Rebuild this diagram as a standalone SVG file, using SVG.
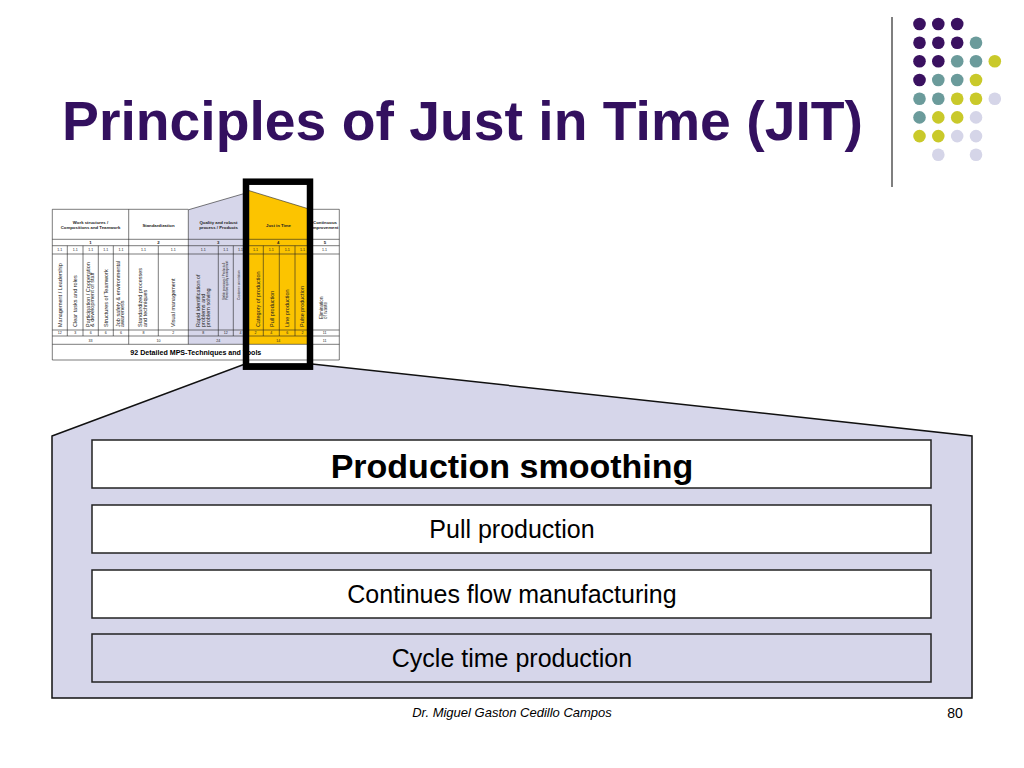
<svg xmlns="http://www.w3.org/2000/svg" width="1024" height="768" viewBox="0 0 1024 768">
<style>
.t{font-family:"Liberation Sans",Arial,sans-serif;fill:#000}
.title{font-family:"Liberation Sans",Arial,sans-serif;font-weight:bold;font-size:55.3px;fill:#33105f}
.box{stroke:#222;stroke-width:1.5}
.big{font-family:"Liberation Sans",Arial,sans-serif;font-size:25px;fill:#000;text-anchor:middle}
.tl{stroke:#222;stroke-width:0.6;fill:none}
.hd{font-family:"Liberation Sans",Arial,sans-serif;font-weight:bold;font-size:4.3px;fill:#222;text-anchor:middle}
.sm{font-family:"Liberation Sans",Arial,sans-serif;font-size:3.6px;fill:#222;text-anchor:middle}
.vt{font-family:"Liberation Sans",Arial,sans-serif;font-size:5.5px;fill:#222}
.P{fill:#3a1160}.T{fill:#6b9b9b}.Y{fill:#c9c92a}.L{fill:#d5d5e8}
</style>
<rect width="1024" height="768" fill="#fff"/>

<g id="decoration">
<line x1="892" y1="17" x2="892" y2="187" stroke="#555" stroke-width="1.5"/>
<g id="dots">
<circle class="P" cx="919.5" cy="24" r="6.3"/><circle class="P" cx="938.3" cy="24" r="6.3"/><circle class="P" cx="957.2" cy="24" r="6.3"/>
<circle class="P" cx="919.5" cy="42.7" r="6.3"/><circle class="P" cx="938.3" cy="42.7" r="6.3"/><circle class="P" cx="957.2" cy="42.7" r="6.3"/><circle class="T" cx="976" cy="42.7" r="6.3"/>
<circle class="P" cx="919.5" cy="61.3" r="6.3"/><circle class="P" cx="938.3" cy="61.3" r="6.3"/><circle class="T" cx="957.2" cy="61.3" r="6.3"/><circle class="T" cx="976" cy="61.3" r="6.3"/><circle class="Y" cx="994.8" cy="61.3" r="6.3"/>
<circle class="P" cx="919.5" cy="80" r="6.3"/><circle class="T" cx="938.3" cy="80" r="6.3"/><circle class="T" cx="957.2" cy="80" r="6.3"/><circle class="Y" cx="976" cy="80" r="6.3"/>
<circle class="T" cx="919.5" cy="98.7" r="6.3"/><circle class="T" cx="938.3" cy="98.7" r="6.3"/><circle class="Y" cx="957.2" cy="98.7" r="6.3"/><circle class="Y" cx="976" cy="98.7" r="6.3"/><circle class="L" cx="994.8" cy="98.7" r="6.3"/>
<circle class="T" cx="919.5" cy="117.4" r="6.3"/><circle class="Y" cx="938.3" cy="117.4" r="6.3"/><circle class="Y" cx="957.2" cy="117.4" r="6.3"/><circle class="L" cx="976" cy="117.4" r="6.3"/>
<circle class="Y" cx="919.5" cy="136.1" r="6.3"/><circle class="Y" cx="938.3" cy="136.1" r="6.3"/><circle class="L" cx="957.2" cy="136.1" r="6.3"/><circle class="L" cx="976" cy="136.1" r="6.3"/>
<circle class="L" cx="938.3" cy="154.8" r="6.3"/><circle class="L" cx="976" cy="154.8" r="6.3"/>
</g>
</g>

<text id="title" class="title" x="62" y="140">Principles of Just in Time (JIT)</text>

<g id="house">
<polygon points="52,436 245,364 312,364 972,436 972,698 52,698" fill="#d6d6ea" stroke="#111" stroke-width="1.5"/>
</g>
<g id="box-smoothing">
<rect class="box" x="92" y="440" width="839" height="48" fill="#fff"/>
<text class="big" x="512" y="478" style="font-weight:bold;font-size:34px">Production smoothing</text>
</g>
<g id="box-pull">
<rect class="box" x="92" y="505" width="839" height="48" fill="#fff"/>
<text class="big" x="512" y="538">Pull production</text>
</g>
<g id="box-flow">
<rect class="box" x="92" y="570" width="839" height="48" fill="#fff"/>
<text class="big" x="512" y="603">Continues flow manufacturing</text>
</g>
<g id="box-cycle">
<rect class="box" x="92" y="634" width="839" height="48" fill="#d6d6ea"/>
<text class="big" x="512" y="667">Cycle time production</text>
</g>

<g id="table">
<rect x="52.3" y="209.3" width="287" height="150.7" fill="#fff"/>
<polygon points="188.3,209.8 246,193 246,344.3 188.3,344.3" fill="#d6d6ea"/>
<polygon points="246,189.7 310,209.3 310,344.3 246,344.3" fill="#fcc400"/>
<polyline class="tl" points="188.3,209.8 246,193"/>
<polyline class="tl" points="246,189.7 310,209.3"/>
<line class="tl" x1="52.3" y1="209.3" x2="188.3" y2="209.3"/>
<line class="tl" x1="310" y1="209.3" x2="339.3" y2="209.3"/>
<path class="tl" d="M52.3,209.3V360M339.3,209.3V360M128.7,209.3V344.3M188.3,209.8V344.3M248,193V344.3M310,209.3V344.3"/>
<path class="tl" d="M67.3,245.7V336M83,245.7V336M98.3,245.7V336M113.3,245.7V336M158.3,245.7V336M218.3,245.7V336M233.3,245.7V336M263.3,245.7V336M279.3,245.7V336M295,245.7V336"/>
<path class="tl" d="M52.3,239.3H339.3M52.3,245.7H339.3M52.3,254H339.3M52.3,330H339.3M52.3,336H339.3M52.3,344.3H339.3M52.3,360H339.3"/>

<text class="hd" x="90.5" y="224">Work structures /</text>
<text class="hd" x="90.5" y="229.2">Compositions and Teamwork</text>
<text class="hd" x="158.5" y="226.5">Standardization</text>
<text class="hd" x="218.5" y="224">Quality and robust</text>
<text class="hd" x="218.5" y="229.2">process / Products</text>
<text class="hd" x="278.5" y="227">Just in Time</text>
<text class="hd" x="325" y="224">Continuous</text>
<text class="hd" x="325" y="229.2">improvement</text>

<text class="hd" x="90.5" y="244">1</text><text class="hd" x="158.5" y="244">2</text><text class="hd" x="218.3" y="244">3</text><text class="hd" x="278.3" y="244">4</text><text class="hd" x="325" y="244">5</text>

<g class="sm">
<text x="59.8" y="251.3">1.1</text><text x="75.2" y="251.3">1.1</text><text x="90.7" y="251.3">1.1</text><text x="105.8" y="251.3">1.1</text><text x="121" y="251.3">1.1</text>
<text x="143.5" y="251.3">1.1</text><text x="173.3" y="251.3">1.1</text><text x="203.3" y="251.3">1.1</text><text x="225.8" y="251.3">1.1</text><text x="240.6" y="251.3">1.1</text>
<text x="255.6" y="251.3">1.1</text><text x="271.3" y="251.3">1.1</text><text x="287.2" y="251.3">1.1</text><text x="302.5" y="251.3">1.1</text><text x="324.6" y="251.3">1.1</text>
</g>

<text class="vt" transform="translate(62,327) rotate(-90)">Management / Leadership</text>
<text class="vt" transform="translate(77,327) rotate(-90)">Clear tasks and roles</text>
<text class="vt" transform="translate(89.5,327) rotate(-90)">Participation / Cooperation</text>
<text class="vt" transform="translate(94.1,327) rotate(-90)">&amp; development of staff</text>
<text class="vt" transform="translate(107.7,327) rotate(-90)">Structures of Teamwork</text>
<text class="vt" transform="translate(119.8,327) rotate(-90)">Job safety &amp; environmental</text>
<text class="vt" transform="translate(124.4,327) rotate(-90)">awareness</text>
<text class="vt" transform="translate(142,327) rotate(-90)">Standardized processes</text>
<text class="vt" transform="translate(146.6,327) rotate(-90)">and techniques</text>
<text class="vt" transform="translate(175.3,327) rotate(-90)">Visual management</text>
<text class="vt" transform="translate(200.3,327) rotate(-90)">Rapid identification of</text>
<text class="vt" transform="translate(204.9,327) rotate(-90)">problems and</text>
<text class="vt" transform="translate(209.5,327) rotate(-90)">problem solving</text>
<text class="vt" style="font-size:2.8px" transform="translate(224.5,300) rotate(-90)">Stable processes / Products &amp;</text>
<text class="vt" style="font-size:2.8px" transform="translate(228.3,300) rotate(-90)">Preventive quality management</text>
<text class="vt" style="font-size:3.2px" transform="translate(239.5,300) rotate(-90)">Customer orientation</text>
<text class="vt" transform="translate(260.2,327) rotate(-90)">Category of production</text>
<text class="vt" transform="translate(273.7,327) rotate(-90)">Pull production</text>
<text class="vt" transform="translate(289.3,327) rotate(-90)">Line production</text>
<text class="vt" transform="translate(304.3,327) rotate(-90)">Pulse production</text>
<text class="vt" style="font-size:4.6px" transform="translate(322.6,319) rotate(-90)">Elimination</text>
<text class="vt" style="font-size:4.6px" transform="translate(326.6,319) rotate(-90)">of waste</text>

<g class="sm">
<text x="59.8" y="334.4">12</text><text x="75.2" y="334.4">3</text><text x="90.7" y="334.4">6</text><text x="105.8" y="334.4">6</text><text x="121" y="334.4">6</text>
<text x="143.5" y="334.4">8</text><text x="173.3" y="334.4">2</text><text x="203.3" y="334.4">8</text><text x="225.8" y="334.4">12</text><text x="240.6" y="334.4">4</text>
<text x="255.6" y="334.4">2</text><text x="271.3" y="334.4">4</text><text x="287.2" y="334.4">6</text><text x="302.5" y="334.4">2</text><text x="324.6" y="334.4">11</text>
<text x="90.5" y="341.6">33</text><text x="158.5" y="341.6">10</text><text x="218.3" y="341.6">24</text><text x="278.3" y="341.6">14</text><text x="324.6" y="341.6">11</text>
</g>
<text class="t" x="195.8" y="355" text-anchor="middle" style="font-weight:bold;font-size:7.1px">92 Detailed MPS-Techniques and Tools</text>
</g>

<g id="connectors">
<rect x="246" y="181.7" width="64" height="185" fill="none" stroke="#000" stroke-width="6.5"/>
</g>

<g id="footer">
<text class="t" x="512" y="717" text-anchor="middle" style="font-style:italic;font-size:13px">Dr. Miguel Gaston Cedillo Campos</text>
<text class="t" x="955" y="718" text-anchor="middle" style="font-size:14px">80</text>
</g>
</svg>
